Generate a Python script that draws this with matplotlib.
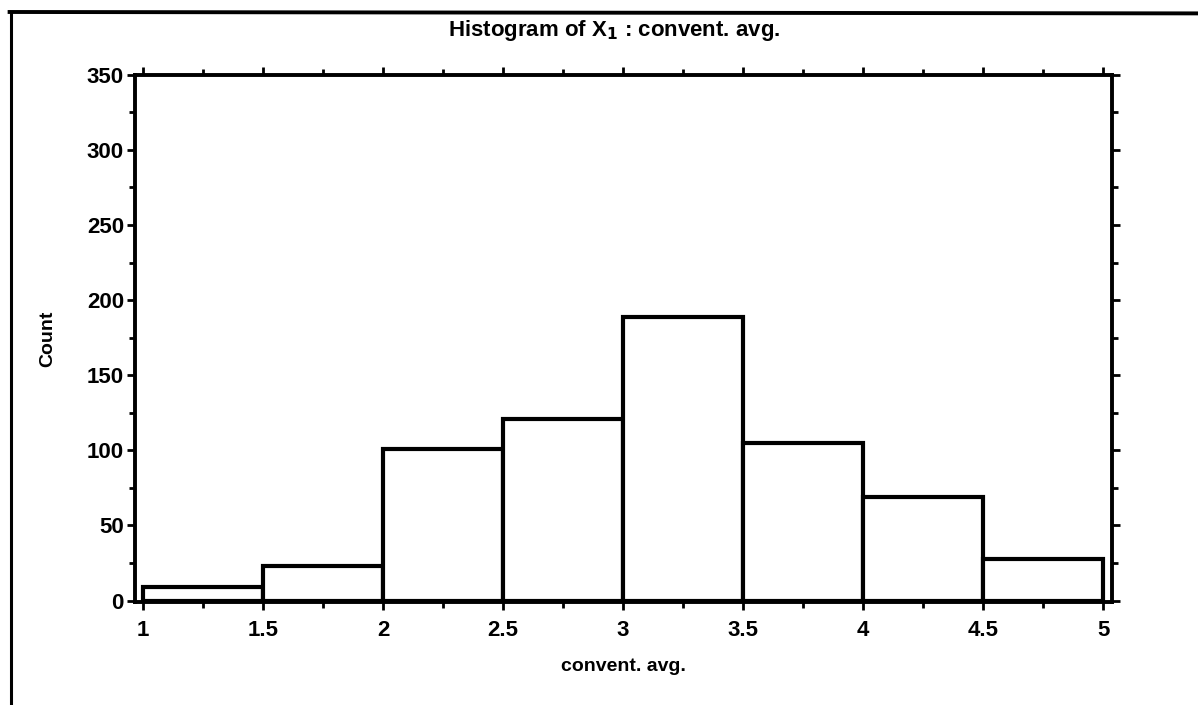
"""Histogram of X1 (convent. avg.) redrawn from a scanned figure."""

import matplotlib

matplotlib.use("Agg")

import matplotlib.pyplot as plt
import numpy as np
from matplotlib.lines import Line2D

# Bin edges and counts.
bin_edges = [1.0, 1.5, 2.0, 2.5, 3.0, 3.5, 4.0, 4.5, 5.0]
counts = [9, 23, 101, 121, 189, 105, 69, 28]
x_ticks = [1, 1.5, 2, 2.5, 3, 3.5, 4, 4.5, 5]
x_tick_labels = ["1", "1.5", "2", "2.5", "3", "3.5", "4", "4.5", "5"]
y_ticks = [0, 50, 100, 150, 200, 250, 300, 350]

plt.rcParams["font.family"] = ["Liberation Sans Narrow", "Liberation Sans", "DejaVu Sans"]
plt.rcParams["font.weight"] = "bold"


def plot_histogram(save_path: str = "out.png") -> plt.Figure:
    fig = plt.figure(figsize=(11.98, 7.05), dpi=100)
    ax = fig.add_axes([0.1127, 0.146, 0.8155, 0.748])

    lefts = np.asarray(bin_edges[:-1])
    widths = np.diff(bin_edges)
    ax.bar(
        lefts,
        counts,
        width=widths,
        align="edge",
        color="white",
        edgecolor="black",
        linewidth=3.0,
    )

    ax.set_xlim(0.967, 5.037)
    ax.set_ylim(-1, 350)

    ax.set_xticks(x_ticks)
    ax.set_xticklabels(x_tick_labels)
    ax.set_xticks(np.arange(1.25, 5.0, 0.5), minor=True)
    ax.set_yticks(y_ticks)
    ax.set_yticks(np.arange(25, 350, 50), minor=True)

    for side in ax.spines.values():
        side.set_linewidth(2.8)

    ax.tick_params(
        which="both",
        direction="out",
        top=True,
        right=True,
        width=2,
        colors="black",
    )
    ax.tick_params(which="major", length=6, labelsize=16, pad=7)
    ax.tick_params(which="minor", length=4)
    for lbl in ax.get_xticklabels() + ax.get_yticklabels():
        lbl.set_fontweight("bold")
    ax.tick_params(axis="y", pad=2)

    ax.set_xlabel("convent. avg.", fontsize=14, fontweight="bold", labelpad=12)
    ax.set_ylabel("Count", fontsize=14, fontweight="bold", labelpad=22)
    ax.set_title(
        "Histogram of X$_\\mathbf{1}$ : convent. avg.",
        fontsize=16,
        fontweight="bold",
        pad=28,
        x=0.49,
    )

    # Scanned page frame: top and left rules.
    fig.add_artist(Line2D([0.008, 1.0], [0.983, 0.981], color="black", lw=2.8))
    fig.add_artist(Line2D([0.009, 0.009], [0.0, 0.983], color="black", lw=2.2))

    fig.savefig(save_path, dpi=100, facecolor="white")
    plt.close(fig)
    return fig


if __name__ == "__main__":
    plot_histogram()
